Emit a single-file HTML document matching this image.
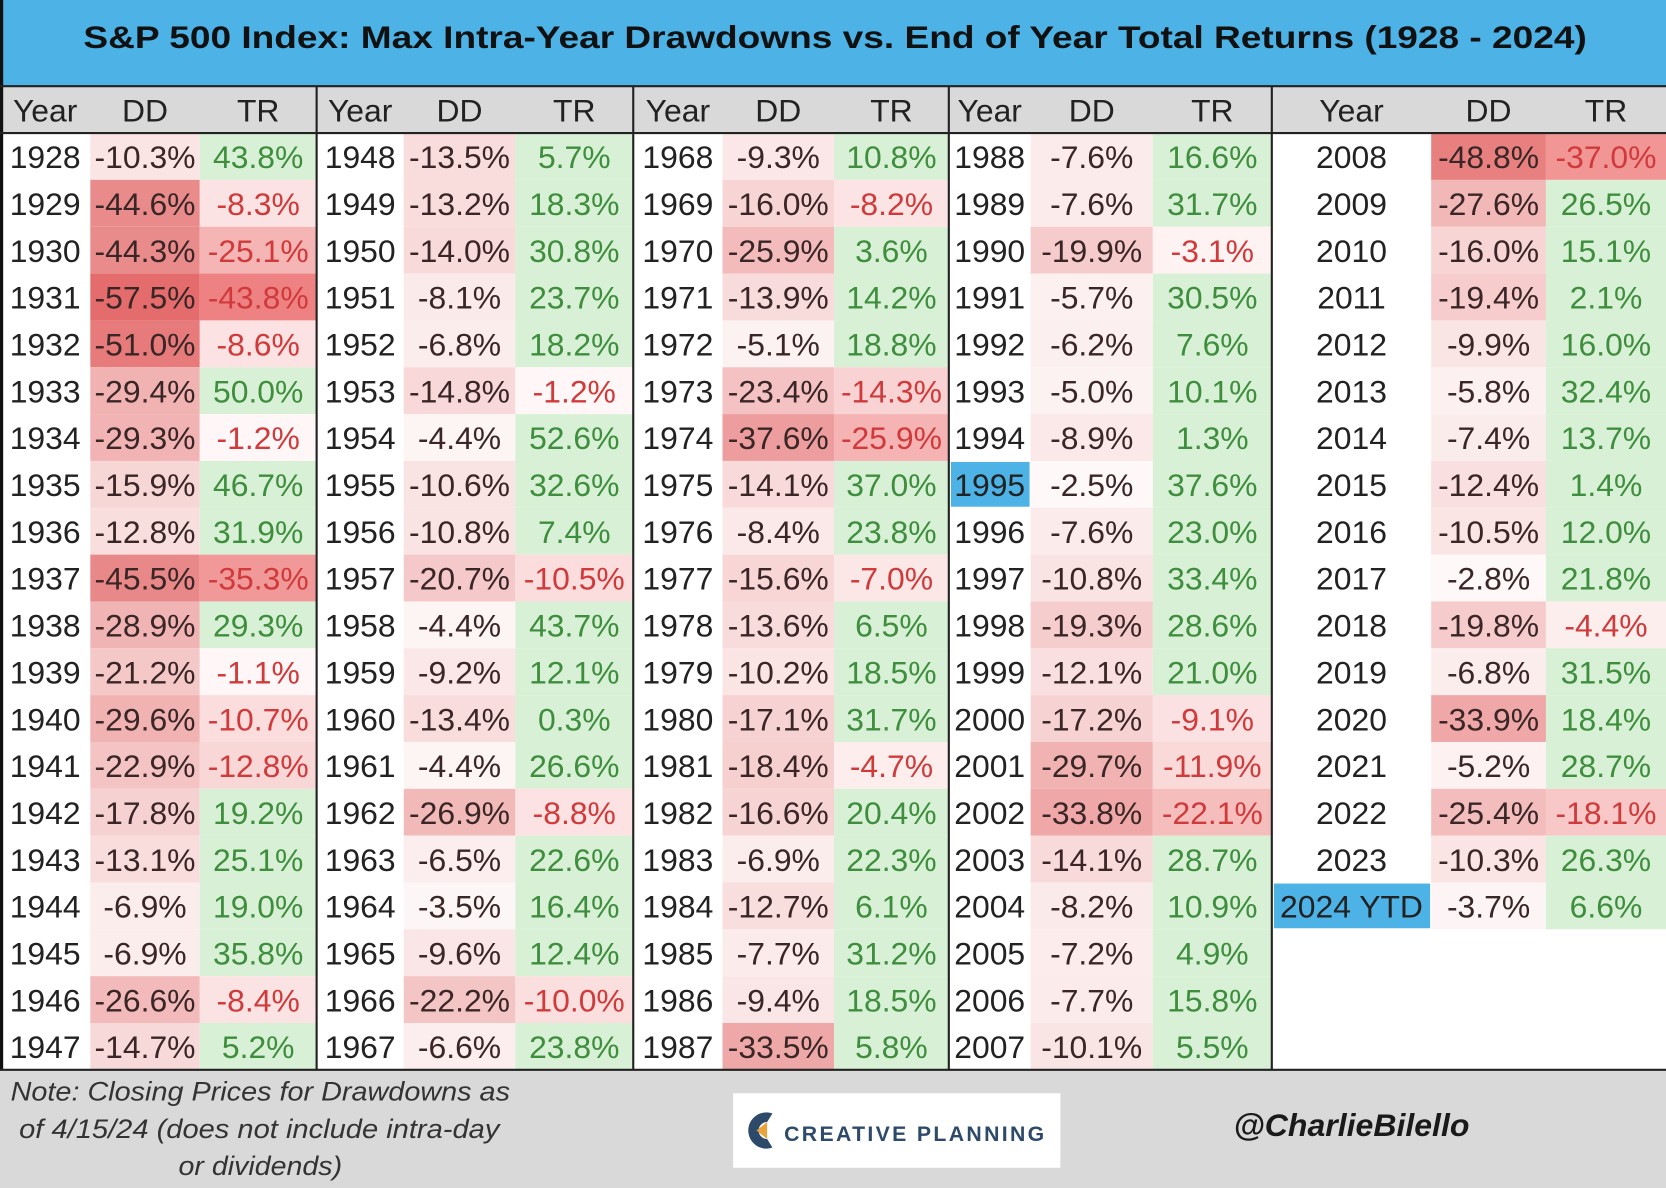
<!DOCTYPE html>
<html><head><meta charset="utf-8">
<style>
html,body{margin:0;padding:0;background:#fff;width:1666px;height:1188px;overflow:hidden}
svg{display:block}
text{font-family:"Liberation Sans",Arial,sans-serif}
</style></head>
<body>
<svg id="chart" width="1666" height="1188" viewBox="0 0 1568 1116" preserveAspectRatio="none" xmlns="http://www.w3.org/2000/svg">
<rect x="0" y="0" width="1568" height="1116" fill="#ffffff"/>
<rect x="0" y="0" width="1568" height="81" fill="#4DB2E6"/>
<text x="786" y="45" text-anchor="middle" font-size="30" font-weight="bold" fill="#111" textLength="1415" lengthAdjust="spacingAndGlyphs">S&amp;P 500 Index: Max Intra-Year Drawdowns vs. End of Year Total Returns (1928 - 2024)</text>
<rect x="0" y="81" width="1568" height="44" fill="#D9D9D9"/>
<g id="cells"></g>
<rect x="0" y="1005" width="1568" height="111" fill="#D9D9D9"/>
<g font-size="25" font-style="italic" fill="#333">
<text x="10" y="1034" textLength="470" lengthAdjust="spacingAndGlyphs">Note: Closing Prices for Drawdowns as</text>
<text x="18" y="1069" textLength="452" lengthAdjust="spacingAndGlyphs">of 4/15/24 (does not include intra-day</text>
<text x="168" y="1104" textLength="154" lengthAdjust="spacingAndGlyphs">or dividends)</text>
</g>
<g>
<rect x="690" y="1027" width="308" height="70" fill="#FFFFFF"/>
<path d="M727 1046 A17 17 0 1 0 727 1078 L722 1070 A8 8 0 1 1 722 1054 Z" fill="#2E4A6B"/>
<path d="M712 1062 L722 1054 L722 1070 Z" fill="#E8A33A"/>
<text x="738" y="1072" font-size="20" font-weight="bold" fill="#2E4A6B" letter-spacing="2.2">CREATIVE PLANNING</text>
</g>
<text x="1272" y="1067" text-anchor="middle" font-size="30" font-style="italic" font-weight="bold" fill="#1a1a1a" font-family="'DejaVu Sans',sans-serif" textLength="222" lengthAdjust="spacingAndGlyphs">@CharlieBilello</text>
<rect x="0" y="0" width="3" height="1005" fill="#111"/>
<g id="lines"></g>
</svg>
<script>
const years = [1928,1929,1930,1931,1932,1933,1934,1935,1936,1937,1938,1939,1940,1941,1942,1943,1944,1945,1946,1947,
1948,1949,1950,1951,1952,1953,1954,1955,1956,1957,1958,1959,1960,1961,1962,1963,1964,1965,1966,1967,
1968,1969,1970,1971,1972,1973,1974,1975,1976,1977,1978,1979,1980,1981,1982,1983,1984,1985,1986,1987,
1988,1989,1990,1991,1992,1993,1994,1995,1996,1997,1998,1999,2000,2001,2002,2003,2004,2005,2006,2007,
2008,2009,2010,2011,2012,2013,2014,2015,2016,2017,2018,2019,2020,2021,2022,2023,"2024 YTD"];
const drawdowns = [-10.3,-44.6,-44.3,-57.5,-51.0,-29.4,-29.3,-15.9,-12.8,-45.5,-28.9,-21.2,-29.6,-22.9,-17.8,-13.1,-6.9,-6.9,-26.6,-14.7,
-13.5,-13.2,-14.0,-8.1,-6.8,-14.8,-4.4,-10.6,-10.8,-20.7,-4.4,-9.2,-13.4,-4.4,-26.9,-6.5,-3.5,-9.6,-22.2,-6.6,
-9.3,-16.0,-25.9,-13.9,-5.1,-23.4,-37.6,-14.1,-8.4,-15.6,-13.6,-10.2,-17.1,-18.4,-16.6,-6.9,-12.7,-7.7,-9.4,-33.5,
-7.6,-7.6,-19.9,-5.7,-6.2,-5.0,-8.9,-2.5,-7.6,-10.8,-19.3,-12.1,-17.2,-29.7,-33.8,-14.1,-8.2,-7.2,-7.7,-10.1,
-48.8,-27.6,-16.0,-19.4,-9.9,-5.8,-7.4,-12.4,-10.5,-2.8,-19.8,-6.8,-33.9,-5.2,-25.4,-10.3,-3.7];
const totalReturns = [43.8,-8.3,-25.1,-43.8,-8.6,50.0,-1.2,46.7,31.9,-35.3,29.3,-1.1,-10.7,-12.8,19.2,25.1,19.0,35.8,-8.4,5.2,
5.7,18.3,30.8,23.7,18.2,-1.2,52.6,32.6,7.4,-10.5,43.7,12.1,0.3,26.6,-8.8,22.6,16.4,12.4,-10.0,23.8,
10.8,-8.2,3.6,14.2,18.8,-14.3,-25.9,37.0,23.8,-7.0,6.5,18.5,31.7,-4.7,20.4,22.3,6.1,31.2,18.5,5.8,
16.6,31.7,-3.1,30.5,7.6,10.1,1.3,37.6,23.0,33.4,28.6,21.0,-9.1,-11.9,-22.1,28.7,10.9,4.9,15.8,5.5,
-37.0,26.5,15.1,2.1,16.0,32.4,13.7,1.4,12.0,21.8,-4.4,31.5,18.4,28.7,-18.1,26.3,6.6];
const highlightYears = [1995,"2024 YTD"];
const headers = ["Year","DD","TR"];

const NS="http://www.w3.org/2000/svg";
const cells=document.getElementById('cells');
const lines=document.getElementById('lines');
const groupEdges=[[0,85,188,298],[298,380,485,596],[596,680,785,893],[893,970,1085,1197],[1197,1347,1455,1568]];
const rowTop=125, rowH=44;
function rowY(i){return rowTop+i*rowH;}
function mix(a,b,t){t=Math.max(0,Math.min(1,t));return 'rgb('+a.map((v,k)=>Math.round(v+(b[k]-v)*t)).join(',')+')';}
function ddColor(v){return mix([255,255,255],[228,108,108],Math.abs(v)/57.5*1.02);}
function trColor(v){return v>=0?'#D8F0D5':mix([255,250,250],[238,130,130],Math.abs(v)/43.8);}
function fmt(v){return v.toFixed(1)+'%';}
function addRect(x,y,w,h,fill){const r=document.createElementNS(NS,'rect');r.setAttribute('x',x);r.setAttribute('y',y);r.setAttribute('width',w);r.setAttribute('height',h);r.setAttribute('fill',fill);cells.appendChild(r);return r;}
function addText(x,y,s,fill){const t=document.createElementNS(NS,'text');t.setAttribute('x',x);t.setAttribute('y',y);t.setAttribute('text-anchor','middle');t.setAttribute('font-size','30');t.setAttribute('fill',fill);t.textContent=s;cells.appendChild(t);return t;}

groupEdges.forEach((e,g)=>{
  headers.forEach((h,c)=>{
    const t=addText((e[c]+e[c+1])/2,114,h,'#222');
    
    
  });
});
years.forEach((yr,i)=>{
  const g=Math.min(4,Math.floor(i/20)), r=i-g*20, e=groupEdges[g], y=rowY(r);
  const dd=drawdowns[i], tr=totalReturns[i];
  if(highlightYears.includes(yr)){
    const hb=addRect(e[0]+2,y+1,e[1]-e[0]-3,rowH-2,'#4DB2E6');
    
    
  }
  const ty=addText((e[0]+e[1])/2,y+33,String(yr),'#222');
  
  
  const rd=addRect(e[1],y,e[2]-e[1],rowH,ddColor(dd));
  
  
  const td=addText((e[1]+e[2])/2,y+33,fmt(dd),'#3a2626');
  
  
  const rt=addRect(e[2],y,e[3]-e[2],rowH,trColor(tr));
  
  
  const tt=addText((e[2]+e[3])/2,y+33,fmt(tr),tr>=0?'#3E8E3E':'#D03A3A');
  
  
});
function addLine(x1,y1,x2,y2,w){const l=document.createElementNS(NS,'line');l.setAttribute('x1',x1);l.setAttribute('y1',y1);l.setAttribute('x2',x2);l.setAttribute('y2',y2);l.setAttribute('stroke','#222');l.setAttribute('stroke-width',w);lines.appendChild(l);return l;}
const l1=addLine(0,81,1568,81,2);


const l2=addLine(0,125,1568,125,2);


const l3=addLine(0,1005,1568,1005,2);


[298,596,893,1197].forEach(x=>{
  const l=addLine(x,81,x,1005,2);
  
  
});
</script>
</body></html>
